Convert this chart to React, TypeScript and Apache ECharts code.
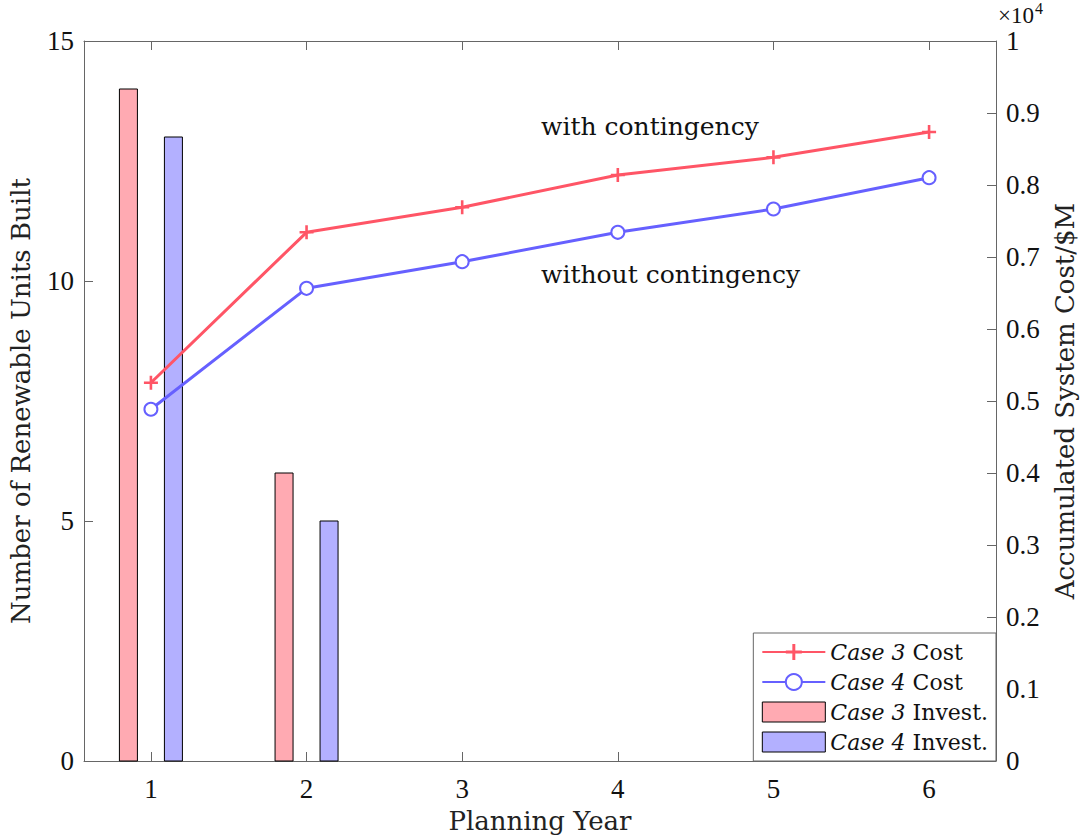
import React, { useEffect, useRef } from "react";
import * as echarts from "echarts";

const years = [1, 2, 3, 4, 5, 6];
const case3Invest = [14, 6, 0, 0, 0, 0];
const case4Invest = [13, 5, 0, 0, 0, 0];
const case3Cost = [5254, 7343, 7690, 8139, 8384, 8736];
const case4Cost = [4885, 6565, 6935, 7343, 7667, 8102];
const leftTicks = { min: 0, max: 15, interval: 5 };
const rightTicks = { min: 0, max: 10000, interval: 1000 };
const xRange = { min: 0.57, max: 6.43 };

const RED = "#FF5566";
const BLUE = "#6660FF";
const PINK = "#FFAAB2";
const LILAC = "#B3B0FF";
const AXIS = "#666666";
const SERIF = "'DejaVu Serif', serif";
const NUM = "'Liberation Serif', serif";

const BAR_W = 18;
const BAR_OFF = 22.5;

const plus = "path://M-1.3,-7H1.3V-1.3H7V1.3H1.3V7H-1.3V1.3H-7V-1.3H-1.3Z";

function barSeries(name: string, values: number[], fill: string, offset: number) {
  return {
    name,
    type: "custom",
    xAxisIndex: 0,
    yAxisIndex: 0,
    encode: { x: 0, y: 1 },
    itemStyle: { color: fill, borderColor: "#000", borderWidth: 1 },
    data: values.map((v, i) => [years[i], v]),
    z: 2,
    renderItem: (_params: any, api: any) => {
      const x = api.value(0);
      const v = api.value(1);
      if (!v) return null;
      const base = api.coord([x, 0]);
      const top = api.coord([x, v]);
      return {
        type: "rect",
        shape: { x: base[0] + offset - BAR_W / 2, y: top[1], width: BAR_W, height: base[1] - top[1] },
        style: { fill, stroke: "#000", lineWidth: 1 },
      };
    },
  };
}

export default function App() {
  const ref = useRef<HTMLDivElement>(null);
  useEffect(() => {
    if (!ref.current) return;
    const chart = echarts.init(ref.current, undefined, { renderer: "svg" });
    const xCommon = {
      type: "value",
      min: xRange.min,
      max: xRange.max,
      splitLine: { show: false },
      axisLine: { show: true, onZero: false, lineStyle: { color: AXIS, width: 1 } },
      axisTick: { show: true, inside: true, length: 9, customValues: years, lineStyle: { color: AXIS } },
    };
    chart.setOption({
      animation: false,
      backgroundColor: "#ffffff",
      grid: { left: 84, right: 85, top: 41, bottom: 77, containLabel: false, outerBoundsMode: "none" },
      xAxis: [
        {
          ...xCommon,
          position: "bottom",
          name: "Planning Year",
          nameLocation: "middle",
          nameGap: 47,
          nameTextStyle: { fontFamily: SERIF, fontSize: 26, color: "#222" },
          axisLabel: {
            customValues: years,
            margin: 14,
            fontFamily: NUM,
            fontSize: 27,
            color: "#111",
            formatter: (v: number) => String(v),
          },
        },
        {
          ...xCommon,
          position: "top",
          axisLabel: { show: false },
        },
      ],
      yAxis: [
        {
          type: "value",
          position: "left",
          min: leftTicks.min,
          max: leftTicks.max,
          interval: leftTicks.interval,
          splitLine: { show: false },
          axisLine: { show: true, lineStyle: { color: AXIS } },
          axisTick: { show: true, inside: true, length: 9, lineStyle: { color: AXIS } },
          axisLabel: { margin: 10, fontFamily: NUM, fontSize: 27, color: "#111" },
          name: "Number of Renewable Units Built",
          nameLocation: "middle",
          nameRotate: 90,
          nameGap: 50,
          nameTextStyle: { fontFamily: SERIF, fontSize: 26, color: "#222" },
        },
        {
          type: "value",
          position: "right",
          min: rightTicks.min,
          max: rightTicks.max,
          interval: rightTicks.interval,
          splitLine: { show: false },
          axisLine: { show: true, lineStyle: { color: AXIS } },
          axisTick: { show: true, inside: true, length: 9, lineStyle: { color: AXIS } },
          axisLabel: {
            margin: 10,
            fontFamily: NUM,
            fontSize: 27,
            color: "#111",
            formatter: (v: number) => String(parseFloat((v / 10000).toFixed(1))),
          },
          name: "Accumulated System Cost/$M",
          nameLocation: "middle",
          nameRotate: 90,
          nameGap: 56,
          nameTextStyle: { fontFamily: SERIF, fontSize: 26, color: "#222" },
        },
      ],
      legend: {
        orient: "vertical",
        right: 85,
        bottom: 77,
        backgroundColor: "#ffffff",
        borderColor: AXIS,
        borderWidth: 1,
        borderRadius: 0,
        padding: [8, 8, 8, 8],
        itemWidth: 63,
        itemHeight: 20,
        itemGap: 8,
        itemTextGap: 10,
        data: [
          { name: "Case 3 Cost" },
          { name: "Case 4 Cost" },
          { name: "Case 3 Invest.", icon: "rect", itemStyle: { color: PINK, borderColor: "#000", borderWidth: 1 } },
          { name: "Case 4 Invest.", icon: "rect", itemStyle: { color: LILAC, borderColor: "#000", borderWidth: 1 } },
        ],
        formatter: (name: string) => {
          const m = name.match(/^(Case \d) (.*)$/);
          return m ? `{i|${m[1]}} {r|${m[2]}}` : name;
        },
        textStyle: {
          fontFamily: SERIF,
          fontSize: 22,
          color: "#111",
          lineHeight: 20,
          rich: {
            i: { fontFamily: SERIF, fontStyle: "italic", fontSize: 22, lineHeight: 20, color: "#111" },
            r: { fontFamily: SERIF, fontSize: 22, lineHeight: 20, color: "#111" },
          },
        },
      },
      series: [
        barSeries("Case 3 Invest.", case3Invest, PINK, -BAR_OFF),
        barSeries("Case 4 Invest.", case4Invest, LILAC, BAR_OFF),
        {
          name: "Case 3 Cost",
          type: "line",
          xAxisIndex: 0,
          yAxisIndex: 1,
          color: RED,
          symbol: plus,
          symbolSize: 14,
          showAllSymbol: true,
          lineStyle: { color: RED, width: 3 },
          itemStyle: { color: RED },
          data: years.map((y, i) => [y, case3Cost[i]]),
          z: 5,
        },
        {
          name: "Case 4 Cost",
          type: "line",
          xAxisIndex: 0,
          yAxisIndex: 1,
          color: BLUE,
          symbol: "emptyCircle",
          symbolSize: 13,
          showAllSymbol: true,
          lineStyle: { color: BLUE, width: 3 },
          itemStyle: { color: BLUE, borderColor: BLUE, borderWidth: 3 },
          data: years.map((y, i) => [y, case4Cost[i]]),
          z: 5,
        },
      ],
      graphic: [
        {
          type: "text",
          left: 541,
          top: 114,
          style: { text: "with contingency", fontFamily: SERIF, fontSize: 25, fill: "#111" },
          z: 10,
        },
        {
          type: "text",
          left: 541,
          top: 262,
          style: { text: "without contingency", fontFamily: SERIF, fontSize: 25, fill: "#111" },
          z: 10,
        },
        {
          type: "text",
          left: 998,
          top: 4,
          style: { text: "×10", fontFamily: NUM, fontSize: 23, fill: "#111" },
          z: 10,
        },
        {
          type: "text",
          left: 1035,
          top: 0,
          style: { text: "4", fontFamily: NUM, fontSize: 16, fill: "#111" },
          z: 10,
        },
      ],
    });
    return () => chart.dispose();
  }, []);
  return (
    <div
      ref={ref}
      style={{ position: "absolute", left: 0, top: 0, width: 1081, height: 838, background: "#fff" }}
    />
  );
}
